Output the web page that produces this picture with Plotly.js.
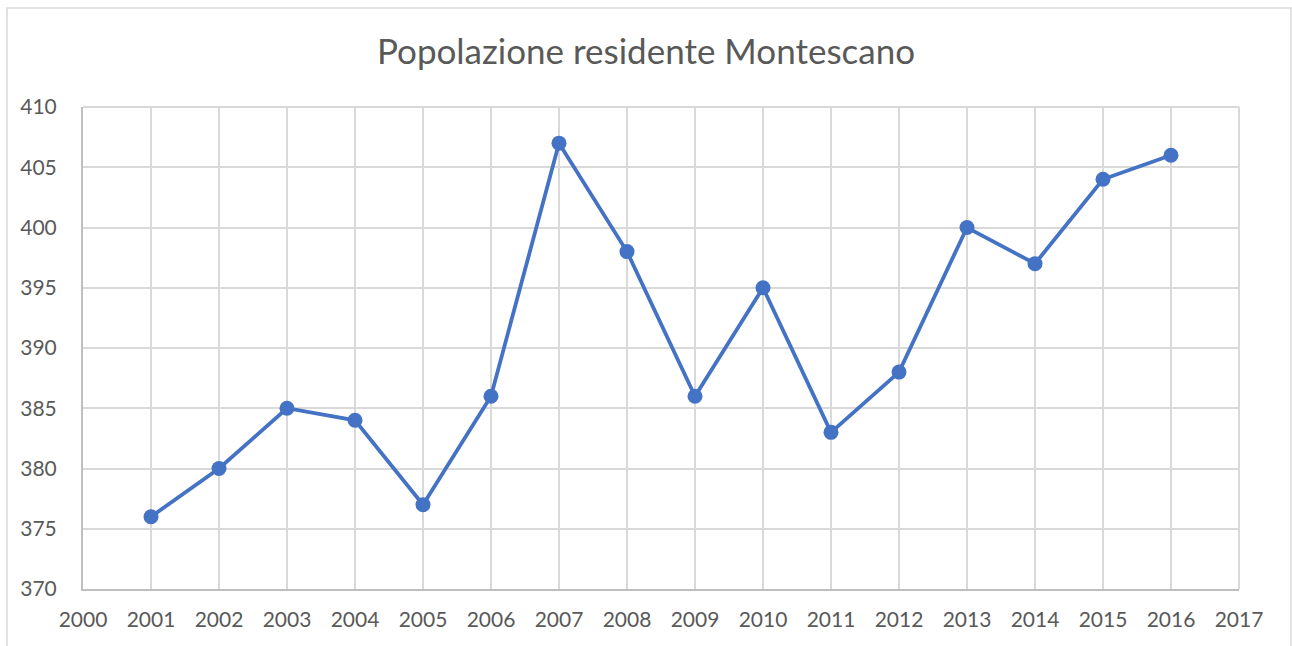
<!DOCTYPE html>
<html>
<head>
<meta charset="utf-8">
<script src="https://cdn.plot.ly/plotly-3.0.1.min.js"></script>
<style>html,body{margin:0;padding:0;background:#fff;}#chart{width:1292px;height:646px;}</style>
</head>
<body>
<div id="chart"></div>
<script>
const years = [2001,2002,2003,2004,2005,2006,2007,2008,2009,2010,2011,2012,2013,2014,2015,2016];
const population = [376,380,385,384,377,386,407,398,386,395,383,388,400,397,404,406];
const xTicks = [2000,2001,2002,2003,2004,2005,2006,2007,2008,2009,2010,2011,2012,2013,2014,2015,2016,2017];
const yTicks = [370,375,380,385,390,395,400,405,410];
const chartTitle = 'Popolazione residente Montescano';

const fontFam = 'Lato, "Open Sans", sans-serif';
const trace = {
  x: years, y: population, type: 'scatter', mode: 'lines+markers',
  line: {color: '#4472C4', width: 3.8},
  marker: {color: '#4472C4', size: 15},
  hoverinfo: 'x+y'
};
const layout = {
  width: 1292, height: 646,
  margin: {l: 83, r: 53, t: 107, b: 57},
  paper_bgcolor: '#fff', plot_bgcolor: '#fff',
  showlegend: false,
  title: {text: chartTitle, x: 0.5, xanchor: 'center', y: 1 - 52/646, yanchor: 'middle',
          font: {family: fontFam, size: 35, color: '#595959'}},
  xaxis: {range: [2000, 2017], tickvals: xTicks, ticktext: xTicks.map(String),
          showgrid: true, gridcolor: '#d9d9d9', gridwidth: 2,
          showline: true, linecolor: '#bfbfbf', linewidth: 2, mirror: false,
          zeroline: false, ticks: '', ticklabelstandoff: 11,
          tickfont: {family: fontFam, size: 21, color: '#595959'}},
  yaxis: {range: [370, 410], tickvals: yTicks,
          showgrid: true, gridcolor: '#d9d9d9', gridwidth: 2,
          showline: true, linecolor: '#bfbfbf', linewidth: 2,
          zeroline: false, ticks: '', ticklabelstandoff: 20,
          tickfont: {family: fontFam, size: 21, color: '#595959'}},
  shapes: [
    {type: 'line', xref: 'paper', yref: 'paper', x0: 1, x1: 1, y0: 0, y1: 1,
     line: {color: '#d9d9d9', width: 2}},
    {type: 'line', xref: 'paper', yref: 'paper', x0: 0, x1: 1, y0: 1, y1: 1,
     line: {color: '#d9d9d9', width: 2}},
    {type: 'rect', xref: 'paper', yref: 'paper', x0: -76/1156, x1: 1208/1156, y0: -80/482, y1: 581/482,
     line: {color: '#d9d9d9', width: 1.5}, fillcolor: 'rgba(0,0,0,0)', layer: 'below'}
  ]
};
Plotly.newPlot('chart', [trace], layout, {displayModeBar: false, staticPlot: true});
</script>
</body>
</html>
